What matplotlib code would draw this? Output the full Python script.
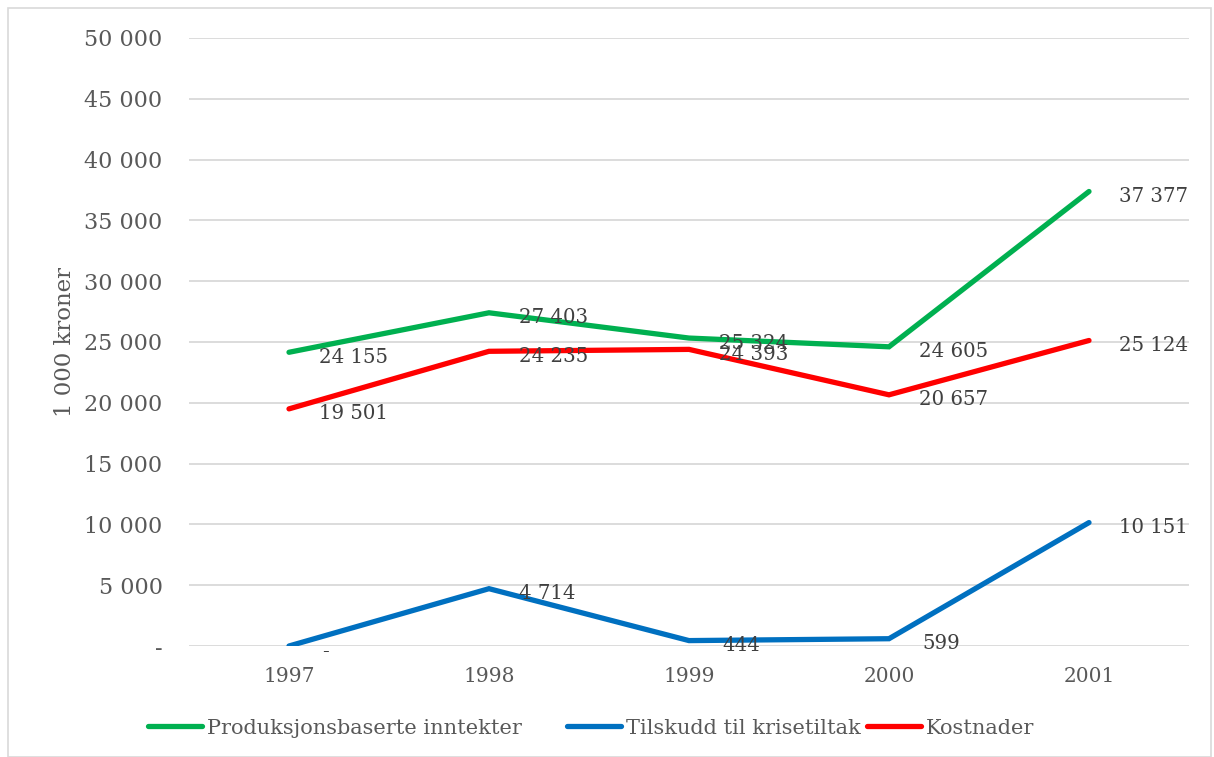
import numpy as np
import matplotlib.pyplot as plt
from matplotlib.patches import Rectangle

# data
years = ['1997', '1998', '1999', '2000', '2001']
produksjon = [24155, 27403, 25324, 24605, 37377]
tilskudd = [0, 4714, 444, 599, 10151]
kostnader = [19501, 24235, 24393, 20657, 25124]
series_names = ['Produksjonsbaserte inntekter', 'Tilskudd til krisetiltak', 'Kostnader']
y_ticks = [0, 5000, 10000, 15000, 20000, 25000, 30000, 35000, 40000, 45000, 50000]

colors = ['#00B050', '#0070C0', '#FF0000']
TXT = '#595959'
LBL = '#404040'

plt.rcParams['font.family'] = ['DejaVu Serif']


def fmt(v):
    return '-' if v == 0 else f'{v:,}'.replace(',', ' ')


W, H = 1214, 757
fig = plt.figure(figsize=(W / 100, H / 100), dpi=100)
fig.patches.append(Rectangle((8 / W, 0), 1203 / W, 1 - 8 / H, transform=fig.transFigure,
                             fill=False, edgecolor='#D9D9D9', linewidth=1.2))

ax = fig.add_axes([189 / W, 1 - 646 / H, 1000 / W, 608 / H])
x = np.arange(len(years))
all_series = [produksjon, tilskudd, kostnader]
handles = []
for vals, c, name in zip(all_series, colors, series_names):
    h, = ax.plot(x, vals, color=c, linewidth=3.8, solid_capstyle='round',
                 solid_joinstyle='miter', label=name, zorder=3)
    handles.append(h)

# data labels, right of and slightly below each point
for si, vals in enumerate(all_series):
    for i, v in enumerate(vals):
        dx = 33 if v < 1000 else 30
        ax.annotate(fmt(v), (i, v), xytext=(dx * 0.72, -5 * 0.72), textcoords='offset points',
                    ha='left', va='center', fontsize=14.2, color=LBL, zorder=4)

ax.set_xlim(-0.5, 4.5)
ax.set_ylim(0, 50000)
ax.set_xticks(x)
ax.set_xticklabels(years)
ax.set_yticks(y_ticks)
ax.set_yticklabels([fmt(v) for v in y_ticks])
ax.tick_params(length=0, labelcolor=TXT)
ax.tick_params(axis='x', pad=15, labelsize=14.5)
ax.tick_params(axis='y', pad=19, labelsize=16)
ax.grid(axis='y', color='#D9D9D9', linewidth=1.3, zorder=0)
for s in ax.spines.values():
    s.set_visible(False)
ax.set_ylabel('1 000 kroner', fontsize=16.5, color=TXT, labelpad=6)

# legend entries placed like the original
leg_x = [148, 567, 867]
for h, lx in zip(handles, leg_x):
    leg = fig.legend(handles=[h], loc='center left', bbox_to_anchor=(lx / W, 1 - 728 / H),
                     frameon=False, fontsize=15, handlelength=2.6, handletextpad=0.22,
                     borderpad=0, borderaxespad=0, labelcolor=TXT)

fig.savefig('out.png', dpi=100)
